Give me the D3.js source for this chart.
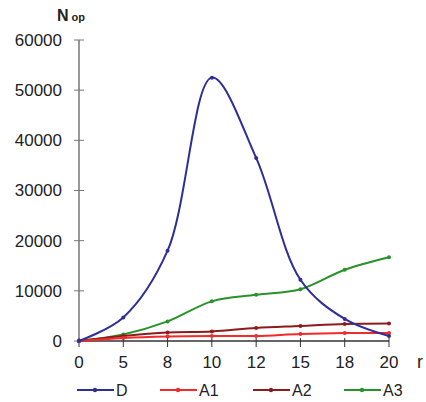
<!DOCTYPE html>
<html lang="en">
<head>
  <meta charset="utf-8" />
  <title>N op vs r</title>
  <script src="https://cdn.jsdelivr.net/npm/d3@7"></script>
  <style>
body{ margin:0; background:#fff; }
svg text{ font-family: "Liberation Sans", Arial, sans-serif; fill:#222; }
  </style>
</head>
<body>
  <svg id="chart"></svg>
  <script>
  // data
  const rValues = ['0', '5', '8', '10', '12', '15', '18', '20'];
  const seriesD  = [0, 4700, 18000, 52500, 36500, 12200, 4400, 1000];
  const seriesA1 = [0, 600, 900, 1000, 1000, 1400, 1600, 1600];
  const seriesA2 = [0, 1000, 1700, 1900, 2600, 3000, 3400, 3500];
  const seriesA3 = [0, 1300, 3900, 7900, 9200, 10300, 14200, 16700];
  const yTicks = [0, 10000, 20000, 30000, 40000, 50000, 60000];

  const series = [
    {name: 'D',  values: seriesD,  color: '#2e2e96'},
    {name: 'A1', values: seriesA1, color: '#f22a2a'},
    {name: 'A2', values: seriesA2, color: '#8c1c1c'},
    {name: 'A3', values: seriesA3, color: '#2a922a'}
  ];

  const width = 426, height = 402;
  const svg = d3.select('#chart').attr('width', width).attr('height', height);

  const x = d3.scalePoint().domain(rValues).range([79, 389]);
  const y = d3.scaleLinear().domain([0, 60000]).range([341, 40]);

  // y axis
  const yAxis = svg.append('g');
  yAxis.append('line')
      .attr('x1', 79).attr('x2', 79)
      .attr('y1', y(60000)).attr('y2', y(0))
      .attr('stroke', '#777').attr('stroke-width', 1.5);
  yAxis.selectAll('line.tick')
    .data(yTicks)
    .enter().append('line')
      .attr('class', 'tick')
      .attr('x1', 74).attr('x2', 84)
      .attr('y1', d => y(d)).attr('y2', d => y(d))
      .attr('stroke', '#777');
  yAxis.selectAll('text')
    .data(yTicks)
    .enter().append('text')
      .attr('x', 62)
      .attr('y', d => y(d))
      .attr('dy', '0.35em')
      .attr('text-anchor', 'end')
      .attr('font-size', 17)
      .text(d => d);

  // x axis
  const xAxis = svg.append('g');
  xAxis.append('line')
      .attr('x1', 79).attr('x2', 389)
      .attr('y1', y(0)).attr('y2', y(0))
      .attr('stroke', '#333').attr('stroke-width', 1.5);
  xAxis.selectAll('line.tick')
    .data(rValues)
    .enter().append('line')
      .attr('class', 'tick')
      .attr('x1', d => x(d)).attr('x2', d => x(d))
      .attr('y1', y(0) - 3).attr('y2', y(0) + 6)
      .attr('stroke', '#333');
  xAxis.selectAll('text')
    .data(rValues)
    .enter().append('text')
      .attr('x', d => x(d))
      .attr('y', 368)
      .attr('text-anchor', 'middle')
      .attr('font-size', 17)
      .text(d => d);

  svg.append('text')
      .attr('x', 417).attr('y', 368)
      .attr('font-size', 18)
      .text('r');

  const title = svg.append('text').attr('x', 57).attr('y', 21).attr('font-weight', 'bold');
  title.append('tspan').attr('font-size', 16).text('N');
  title.append('tspan').attr('font-size', 11).attr('dx', 3).text('op');

  // lines
  const line = d3.line()
      .x((d, i) => x(rValues[i]))
      .y(d => y(d))
      .curve(d3.curveCatmullRom.alpha(0.5));

  const g = svg.append('g').attr('fill', 'none');
  series.slice().reverse().forEach(s => {
    g.append('path')
        .attr('d', line(s.values))
        .attr('stroke', s.color)
        .attr('stroke-width', 2);
    g.selectAll(null)
      .data(s.values)
      .enter().append('circle')
        .attr('cx', (d, i) => x(rValues[i]))
        .attr('cy', d => y(d))
        .attr('r', 2)
        .attr('fill', s.color);
  });

  // legend
  const legendX = [77, 160, 253, 344];
  const legend = svg.append('g');
  series.forEach((s, i) => {
    const lg = legend.append('g').attr('transform', `translate(${legendX[i]},390)`);
    lg.append('line')
        .attr('x1', 0).attr('x2', 37)
        .attr('stroke', s.color).attr('stroke-width', 2);
    lg.append('circle').attr('cx', 18).attr('r', 2.2).attr('fill', s.color);
    lg.append('text')
        .attr('x', 39).attr('dy', '0.36em')
        .attr('font-size', 16)
        .text(s.name);
  });
  </script>
</body>
</html>
